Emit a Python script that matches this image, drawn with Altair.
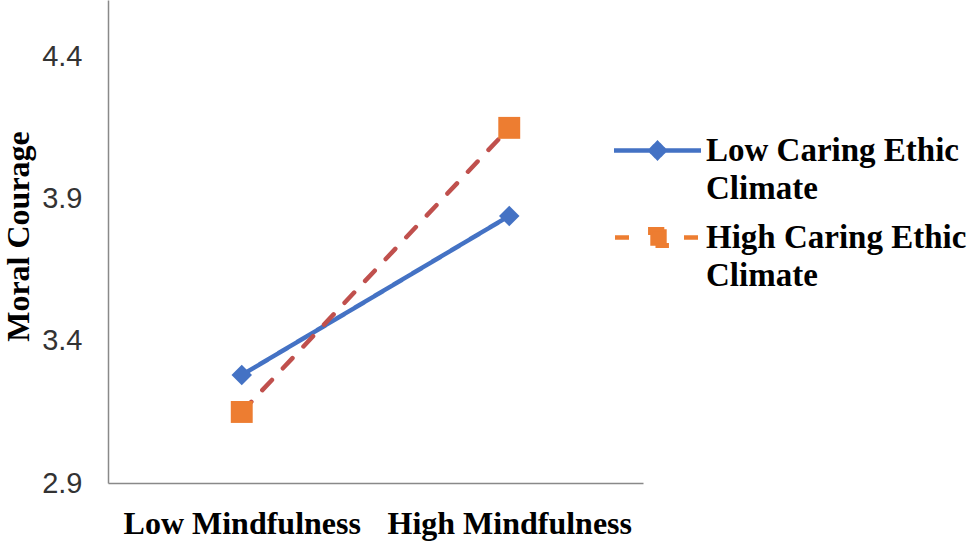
import altair as alt
import pandas as pd

mindfulness = ["Low Mindfulness", "High Mindfulness"]
series_names = ["Low Caring Ethic Climate", "High Caring Ethic Climate"]
low_caring = [3.28, 3.84]
high_caring = [3.15, 4.15]
y_ticks = [2.9, 3.4, 3.9, 4.4]

rows = []
for s, vals in zip(series_names, [low_caring, high_caring]):
    for m, v in zip(mindfulness, vals):
        rows.append({"mindfulness": m, "series": s, "value": v})
df = pd.DataFrame(rows)

BLUE = "#4472C4"
ORANGE = "#ED7D31"
RED = "#C0504D"
SERIF = "Liberation Serif"
SANS = "Liberation Sans"

x = alt.X(
    "mindfulness:N",
    sort=mindfulness,
    scale=alt.Scale(type="point", padding=0.5),
    axis=alt.Axis(
        title=None, labelFont=SERIF, labelFontWeight="bold", labelFontSize=32,
        labelColor="black", labelPadding=25, ticks=False, tickSize=0, labelLimit=400,
        domainColor="#898989", domainWidth=1.5, labelAngle=0, grid=False,
    ),
)
y = alt.Y(
    "value:Q",
    scale=alt.Scale(domain=[2.9, 4.6], nice=False, zero=False),
    axis=alt.Axis(
        values=y_ticks, format=".1f", title="Moral Courage",
        titleFont=SERIF, titleFontWeight="bold", titleFontSize=32, titleColor="black",
        titleAngle=-90, titleX=-90, titleY=236, titleAlign="center", titleBaseline="middle",
        labelFont=SANS, labelFontSize=29, labelColor="#333333", labelPadding=26,
        ticks=False, tickSize=0, grid=False, domainColor="#898989", domainWidth=1.5,
    ),
)

lines = alt.Chart(df).mark_line(strokeWidth=4.5, strokeCap="round").encode(
    x=x, y=y,
    color=alt.Color("series:N", scale=alt.Scale(domain=series_names, range=[BLUE, RED]), legend=None),
    strokeDash=alt.StrokeDash("series:N", scale=alt.Scale(domain=series_names, range=[[1, 0], [14, 16]]), legend=None),
)

pts_low = alt.Chart(df).transform_filter(alt.datum.series == series_names[0]).mark_point(
    shape="diamond", filled=True, size=420, color=BLUE, opacity=1
).encode(x=x, y=y)

pts_high = alt.Chart(df).transform_filter(alt.datum.series == series_names[1]).mark_point(
    shape="square", filled=True, size=480, color=ORANGE, opacity=1
).encode(x=x, y=y)

PATH_LOW = "M-2.175,0H2.175M0,-0.36L0.36,0L0,0.36L-0.36,0Z"
PATH_HIGH = "M-2.125,0H-1.175M1.325,0H2.175M-0.36,-0.41H0.46V0.41H-0.36Z"

legend_kwargs = dict(
    title=None, orient="none", legendX=527, legendY=128,
    symbolSize=1600, symbolStrokeWidth=4.5,
    labelFont=SERIF, labelFontWeight="bold", labelFontSize=33, labelColor="black",
    labelLimit=400, labelOffset=26, labelBaseline="middle",
    labelExpr="[replace(datum.label, ' Climate', ''), 'Climate']",
    rowPadding=9, padding=0,
)

leg = alt.Chart(df).mark_point(filled=True, opacity=1).encode(
    x=x, y=y,
    size=alt.value(0),
    fill=alt.Fill("series:N", scale=alt.Scale(domain=series_names, range=[BLUE, ORANGE]),
                  legend=alt.Legend(**legend_kwargs)),
    stroke=alt.Stroke("series:N", scale=alt.Scale(domain=series_names, range=[BLUE, ORANGE]),
                      legend=alt.Legend(**legend_kwargs)),
    shape=alt.Shape("series:N", scale=alt.Scale(domain=series_names, range=[PATH_LOW, PATH_HIGH]),
                    legend=alt.Legend(**legend_kwargs)),
)

chart = alt.layer(leg, lines, pts_low, pts_high).properties(
    width=535, height=483,
    autosize=alt.AutoSizeParams(type="none"),
    padding={"left": 108, "top": 0, "right": 326, "bottom": 59},
    background="white",
).configure(
    style={"guide-label": {"lineHeight": 38}},
    view=alt.ViewConfig(stroke=None),
)

chart.save("out.html", embed_options={"renderer": "svg", "actions": False})
